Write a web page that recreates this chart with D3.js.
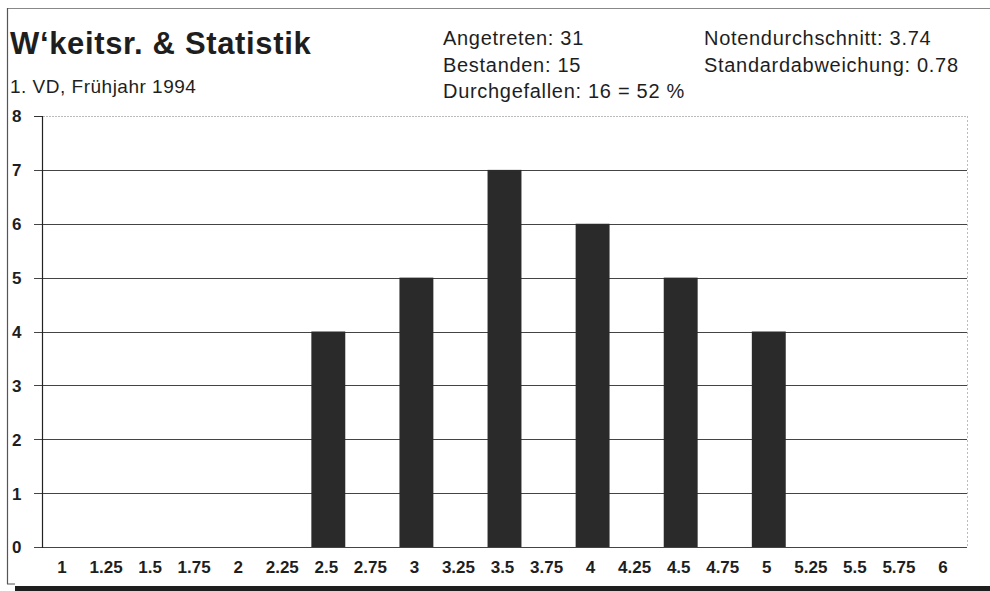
<!DOCTYPE html>
<html>
<head>
<meta charset="utf-8">
<script src="https://cdn.jsdelivr.net/npm/d3@7"></script>
<style>
  html, body { margin: 0; padding: 0; background: #fff; }
  svg { display: block; font-family: "Liberation Sans", Arial, Helvetica, sans-serif; }
</style>
</head>
<body>
<svg id="chart" width="990" height="591"></svg>
<script>
// ---- data ----
const grades = ["1","1.25","1.5","1.75","2","2.25","2.5","2.75","3","3.25","3.5","3.75","4","4.25","4.5","4.75","5","5.25","5.5","5.75","6"];
const counts = [0,0,0,0,0,0,4,0,5,0,7,0,6,0,5,0,4,0,0,0,0];
const yTicks = [0,1,2,3,4,5,6,7,8];
const titleText = "W\u2018keitsr. & Statistik";
const subtitleText = "1. VD, Frühjahr 1994";
const statsLeft = ["Angetreten: 31", "Bestanden: 15", "Durchgefallen: 16 = 52 %"];
const statsRight = ["Notendurchschnitt: 3.74", "Standardabweichung: 0.78"];

// ---- layout ----
const svg = d3.select("#chart");
const plot = { left: 42, right: 967, top: 116, bottom: 547 };

const x = d3.scaleBand().domain(grades).range([plot.left, plot.right]).paddingInner(0.23).paddingOuter(0.115);
const y = d3.scaleLinear().domain([0, 8]).range([plot.bottom, plot.top]);

// frame
svg.append("line").attr("x1", 7).attr("x2", 990).attr("y1", 8.5).attr("y2", 8.5)
  .attr("stroke", "#888").attr("stroke-width", 1);
svg.append("line").attr("x1", 7.5).attr("x2", 7.5).attr("y1", 8).attr("y2", 584)
  .attr("stroke", "#555").attr("stroke-width", 1.2);
svg.append("line").attr("x1", 7).attr("x2", 15).attr("y1", 584).attr("y2", 584)
  .attr("stroke", "#555").attr("stroke-width", 1);
svg.append("rect").attr("x", 15).attr("y", 586).attr("width", 975).attr("height", 5)
  .attr("fill", "#1e1e1e");

// titles
svg.append("text").attr("x", 10).attr("y", 54).text(titleText)
  .attr("font-size", 31).attr("font-weight", "bold").attr("letter-spacing", 0.65).attr("fill", "#1e1e1e");
svg.append("text").attr("x", 10).attr("y", 93).text(subtitleText)
  .attr("font-size", 19).attr("letter-spacing", 0.5).attr("fill", "#1e1e1e");

svg.append("g").selectAll("text").data(statsLeft).join("text")
  .attr("x", 443).attr("y", (d, i) => 45 + i * 26.5).text(d => d)
  .attr("font-size", 20).attr("letter-spacing", 0.7).attr("fill", "#1e1e1e");
svg.append("g").selectAll("text").data(statsRight).join("text")
  .attr("x", 704).attr("y", (d, i) => 45 + i * 26.5).text(d => d)
  .attr("font-size", 20).attr("letter-spacing", 0.7).attr("fill", "#1e1e1e");

// gridlines
svg.append("g").selectAll("line").data(yTicks).join("line")
  .attr("x1", 34).attr("x2", plot.right)
  .attr("y1", d => Math.round(y(d)) + 0.5).attr("y2", d => Math.round(y(d)) + 0.5)
  .attr("stroke", d => d === 8 ? "#bbb" : "#444")
  .attr("stroke-dasharray", d => d === 8 ? "2,1" : null)
  .attr("stroke-width", 1);
svg.append("line").attr("x1", 34).attr("x2", plot.left).attr("y1", Math.round(y(8)) + 0.5).attr("y2", Math.round(y(8)) + 0.5)
  .attr("stroke", "#333");
svg.append("line").attr("x1", plot.right + 0.5).attr("x2", plot.right + 0.5).attr("y1", plot.top).attr("y2", plot.bottom)
  .attr("stroke", "#bbb").attr("stroke-dasharray", "2,2");

// y axis
const yAxis = d3.axisLeft(y).tickValues(yTicks).tickSize(0).tickPadding(0).tickFormat(d3.format("d"));
const gy = svg.append("g").attr("transform", `translate(${plot.left},0)`).call(yAxis)
  .attr("font-size", 17).attr("font-family", "'Liberation Sans', Arial, sans-serif");
gy.select(".domain").remove();
gy.selectAll("text").attr("x", -30).attr("text-anchor", "start")
  .attr("font-weight", "bold").attr("fill", "#1e1e1e").attr("dy", "0.35em");
svg.append("line").attr("x1", plot.left + 0.5).attr("x2", plot.left + 0.5)
  .attr("y1", Math.round(y(8))).attr("y2", Math.round(y(0)) + 1).attr("stroke", "#222").attr("stroke-width", 1.2);

// bars
svg.append("g").selectAll("rect").data(grades.map((g, i) => ({ g, v: counts[i] })).filter(d => d.v > 0))
  .join("rect")
  .attr("x", d => x(d.g)).attr("width", x.bandwidth())
  .attr("y", d => y(d.v)).attr("height", d => y(0) - y(d.v))
  .attr("fill", "#2a2a2a");

// x axis
const xAxis = d3.axisBottom(x).tickSize(0).tickPadding(0);
const gx = svg.append("g").attr("transform", `translate(0,${plot.bottom})`).call(xAxis)
  .attr("font-size", 17).attr("font-family", "'Liberation Sans', Arial, sans-serif");
gx.select(".domain").remove();
gx.selectAll("text").attr("y", 26).attr("dy", 0).attr("dx", -2)
  .attr("font-weight", "bold").attr("fill", "#1e1e1e");
</script>
</body>
</html>
